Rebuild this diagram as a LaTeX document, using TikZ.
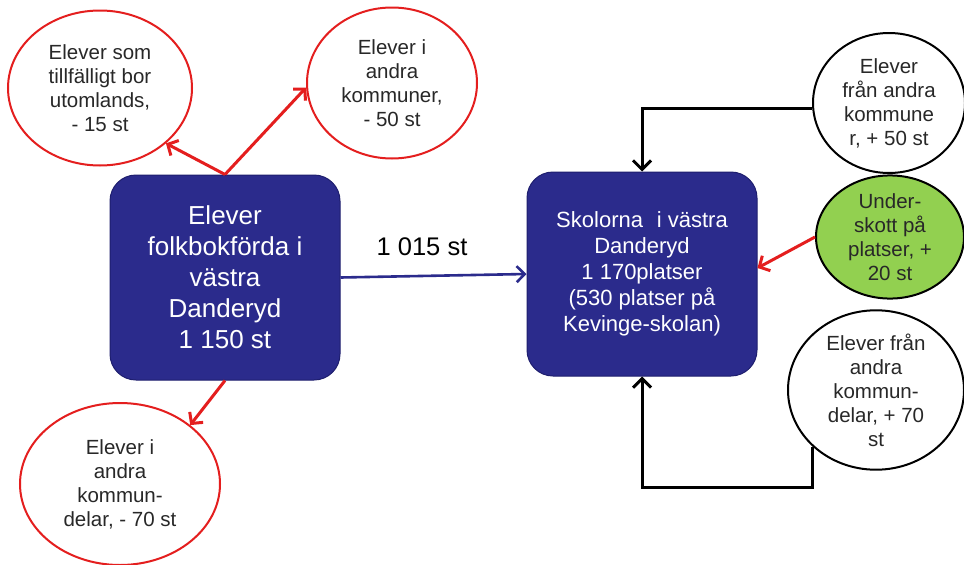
\documentclass[tikz,border=0pt]{standalone}
\usepackage{fontspec}
\setmainfont{Liberation Sans}
\usetikzlibrary{arrows.meta,shapes.geometric}
\definecolor{navy}{RGB}{43,43,140}
\definecolor{navyedge}{RGB}{30,30,110}
\definecolor{redline}{RGB}{228,30,30}
\definecolor{greenfill}{RGB}{146,208,80}
\definecolor{txt}{RGB}{40,40,40}
\tikzset{
  bluebox/.style={rectangle, rounded corners=26pt, fill=navy, draw=navyedge, line width=1pt,
    text=white, align=center, inner sep=0pt},
  ellfont/.style={font=\fontsize{20.5}{24}\selectfont},
  redell/.style={ellipse, draw=redline, line width=2pt, fill=white, text=txt, align=center,
    inner sep=0pt, ellfont},
  blkell/.style={ellipse, draw=black, line width=2pt, fill=white, text=txt, align=center,
    inner sep=0pt, ellfont},
  grnell/.style={ellipse, draw=black, line width=2pt, fill=greenfill, text=txt, align=center,
    inner sep=0pt, ellfont},
  redarrow/.style={draw=redline, line width=3pt, -{Straight Barb[length=8pt,width=17pt]}},
  blkarrow/.style={draw=black, line width=3pt, -{Straight Barb[length=9pt,width=18pt]}},
  bluearrow/.style={draw=navy, line width=2.6pt, -{Straight Barb[length=8pt,width=16pt]}},
}
\begin{document}
\begin{tikzpicture}[x=1pt,y=-1pt]
\useasboundingbox[fill=white] (0,0) rectangle (964,565);

% main boxes
\node[bluebox, minimum width=230pt, minimum height=205pt, font=\fontsize{26}{31}\selectfont] (L) at (225,277.5)
  {Elever\\folkbokförda i\\västra\\Danderyd\\1 150 st};
\node[bluebox, minimum width=230pt, minimum height=204pt, font=\fontsize{22}{26}\selectfont] (R) at (642,274)
  {Skolorna\hspace{0.35em} i västra\\Danderyd\\ 1 170platser\\(530 platser på\\Kevinge-skolan)};

% ellipses
\node[redell, minimum width=184pt, minimum height=155pt] (TL) at (100,88)
  {Elever som\\tillfälligt bor\\utomlands,\\- 15 st};
\node[redell, minimum width=170pt, minimum height=151pt] (TR) at (392,83)
  {Elever i\\andra\\kommuner,\\- 50 st};
\node[redell, minimum width=200pt, minimum height=162pt] (BL) at (120,484)
  {Elever i\\andra\\kommun-\\delar, - 70 st};
\node[blkell, minimum width=152pt, minimum height=140pt] (RT) at (889,103)
  {Elever\\från andra\\kommune\\r, + 50 st};
\node[grnell, minimum width=148pt, minimum height=120pt] (G) at (890,237)
  {Under-\\skott på\\platser, +\\20 st};
\node[blkell, minimum width=176pt, minimum height=146pt] (RB) at (876,390)
  {Elever från\\andra\\kommun-\\delar, + 70\\st};

% label
\node[text=black, font=\fontsize{25.5}{30}\selectfont] (lbl) at (422,247) {1 015 st};

% connectors
\draw[bluearrow] (L.east) -- (R.west);
\draw[redarrow] (L.north) -- (TL.-40);
\draw[redarrow] (L.north) -- (TR.183);
\draw[redarrow] (L.south) -- (BL.40);
\draw[redarrow] (G.west) -- ([yshift=6pt]R.east);
\draw[blkarrow] (RT.184) -| (R.north);
\coordinate (cb) at (817,487);
\draw[blkarrow] (RB.222) -- (RB.222 |- cb) -| (R.south);
\end{tikzpicture}
\end{document}
